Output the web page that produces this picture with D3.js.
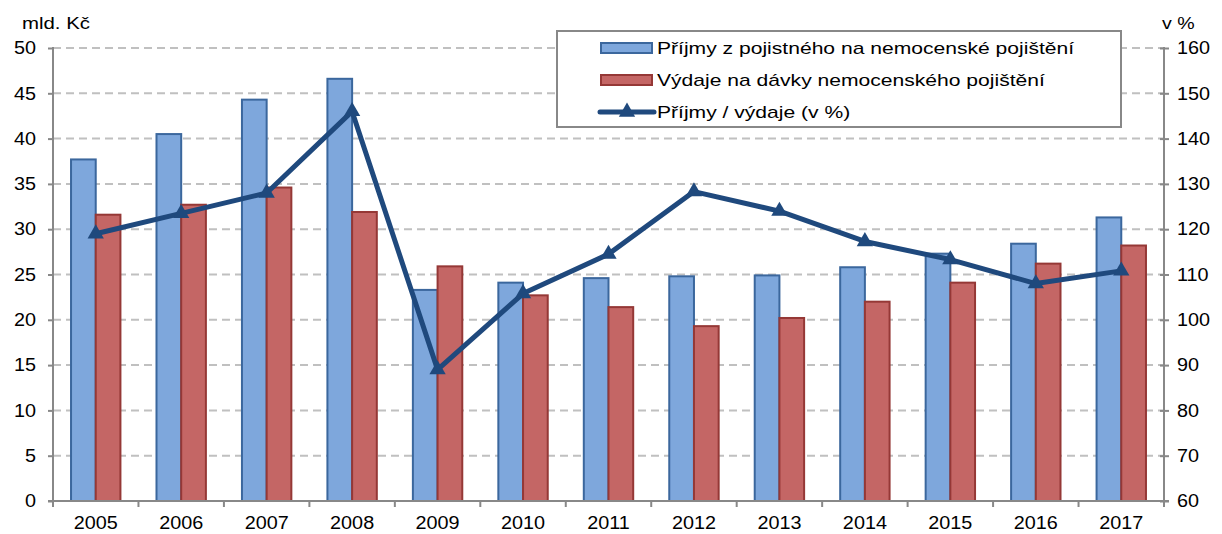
<!DOCTYPE html>
<html><head><meta charset="utf-8">
<script src="https://cdn.jsdelivr.net/npm/d3@7"></script>
<style>body{margin:0;background:#fff}svg{display:block}text{font-family:"Liberation Sans",Arial,sans-serif;fill:#000}</style>
</head><body><svg id="c" width="1222" height="534"></svg>
<script>
const years = ["2005","2006","2007","2008","2009","2010","2011","2012","2013","2014","2015","2016","2017"];
const prijmy = [37.7,40.5,44.3,46.6,23.3,24.1,24.6,24.8,24.9,25.8,27.3,28.4,31.3];
const vydaje = [31.6,32.7,34.6,31.9,25.9,22.7,21.4,19.3,20.2,22.0,24.1,26.2,28.2];
const pomer = [119.0,123.5,128.0,146.0,89.0,105.8,114.5,128.3,124.0,117.3,113.3,108.0,110.8];
const leftTicks = [0,5,10,15,20,25,30,35,40,45,50];
const rightTicks = [60,70,80,90,100,110,120,130,140,150,160];
const seriesNames = ["Příjmy z pojistného na nemocenské pojištění","Výdaje na dávky nemocenského pojištění","Příjmy / výdaje (v %)"];

const svg = d3.select("#c");
const L = 53, R = 1164, T = 48, B = 501;
const x = d3.scaleBand().domain(years).range([L, R]).padding(0);
const x1 = d3.scaleBand().domain(["p","v"]).range([0, x.bandwidth()]).paddingInner(0).paddingOuter(0.73);
const yL = d3.scaleLinear().domain([0,50]).range([B, T]);
const yR = d3.scaleLinear().domain([60,160]).range([B, T]);

function stretch(sel, k){
  sel.each(function(){
    const w = this.getComputedTextLength();
    d3.select(this).attr("textLength", w*k).attr("lengthAdjust","spacingAndGlyphs");
  });
}

// gridlines
svg.append("g").selectAll("line").data(leftTicks.filter(d=>d>0)).join("line")
  .attr("x1", L).attr("x2", R).attr("y1", d=>yL(d)).attr("y2", d=>yL(d))
  .attr("stroke","#c0c0c0").attr("stroke-width",2).attr("stroke-dasharray","8,5");

// bars
const g = svg.append("g");
g.selectAll("rect.p").data(prijmy).join("rect")
  .attr("x",(d,i)=>x(years[i])+x1("p")).attr("width",x1.bandwidth())
  .attr("y",d=>yL(d)).attr("height",d=>B-yL(d))
  .attr("fill","#7ea7dc").attr("stroke","#3b679d").attr("stroke-width",2);
g.selectAll("rect.v").data(vydaje).join("rect")
  .attr("x",(d,i)=>x(years[i])+x1("v")).attr("width",x1.bandwidth())
  .attr("y",d=>yL(d)).attr("height",d=>B-yL(d))
  .attr("fill","#c46665").attr("stroke","#953836").attr("stroke-width",2);

// line
const lineGen = d3.line().x((d,i)=>x(years[i])+x.bandwidth()/2).y(d=>yR(d));
svg.append("path").datum(pomer).attr("d",lineGen).attr("fill","none")
  .attr("stroke","#1f497d").attr("stroke-width",5).attr("stroke-linejoin","round");
const tri = d3.symbol().type(d3.symbolTriangle).size(115);
svg.append("g").selectAll("path").data(pomer).join("path")
  .attr("d",tri).attr("transform",(d,i)=>`translate(${x(years[i])+x.bandwidth()/2},${yR(d)})`)
  .attr("fill","#1f497d");

// axes
const leftAxis = d3.axisLeft(yL).tickValues(leftTicks).tickSize(5).tickPadding(12);
const gl = svg.append("g").attr("transform",`translate(${L},0)`).call(leftAxis);
const rightAxis = d3.axisRight(yR).tickValues(rightTicks).tickSize(5).tickPadding(8);
const gr = svg.append("g").attr("transform",`translate(${R},0)`).call(rightAxis);
const bottomAxis = d3.axisBottom(x).tickSize(0).tickPadding(15);
const gb = svg.append("g").attr("transform",`translate(0,${B})`).call(bottomAxis);
[gl,gr,gb].forEach(a=>{
  a.select(".domain").attr("stroke","#888").attr("stroke-width",2);
  a.selectAll(".tick line").attr("stroke","#888").attr("stroke-width",2);
  a.selectAll("text").attr("font-size",18).attr("font-family","Liberation Sans, Arial, sans-serif").attr("fill","#000");
  stretch(a.selectAll("text"), 1.1);
});
gl.select(".domain").attr("d",`M0,${T-1}V${B}`);
gr.select(".domain").attr("d",`M0,${T-1}V${B}`);
gr.selectAll(".tick line").attr("x1",-4);
gb.select(".domain").attr("d",`M${L-5},0H${R+5}`);
// category boundary ticks
svg.append("g").selectAll("line").data(years.concat(["end"])).join("line")
  .attr("x1",(d,i)=>i<years.length?x(d):R).attr("x2",(d,i)=>i<years.length?x(d):R)
  .attr("y1",B).attr("y2",B+6).attr("stroke","#888").attr("stroke-width",2);

const u1 = svg.append("text").attr("x",22).attr("y",29).attr("font-size",17).text("mld. Kč");
const u2 = svg.append("text").attr("x",1162).attr("y",29).attr("font-size",17).text("v %");
stretch(u1, 1.2); stretch(u2, 1.15);

// legend
const lg = svg.append("g");
lg.append("rect").attr("x",557).attr("y",31).attr("width",564).attr("height",96)
  .attr("fill","#fff").attr("stroke","#888").attr("stroke-width",2);
const rowsY = [48,80,112];
lg.append("rect").attr("x",601).attr("y",rowsY[0]-5).attr("width",51).attr("height",10)
  .attr("fill","#7ea7dc").attr("stroke","#3b679d").attr("stroke-width",2);
lg.append("rect").attr("x",601).attr("y",rowsY[1]-5).attr("width",51).attr("height",10)
  .attr("fill","#c46665").attr("stroke","#953836").attr("stroke-width",2);
lg.append("line").attr("x1",600).attr("x2",654).attr("y1",rowsY[2]).attr("y2",rowsY[2])
  .attr("stroke","#1f497d").attr("stroke-width",5).attr("stroke-linecap","round");
lg.append("path").attr("d",tri).attr("transform",`translate(627,${rowsY[2]})`).attr("fill","#1f497d");
const lt = lg.selectAll("text").data(seriesNames).join("text")
  .attr("x",657).attr("y",(d,i)=>rowsY[i]+6).attr("font-size",17).text(d=>d);
stretch(lt, 1.24);
</script></body></html>
